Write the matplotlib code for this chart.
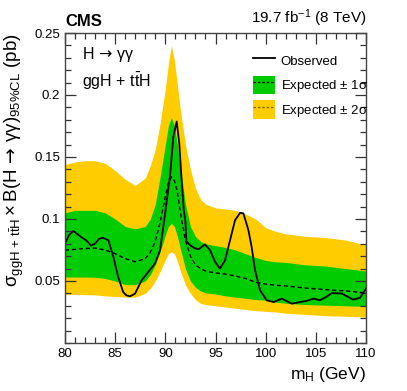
import numpy as np
import matplotlib
matplotlib.use("Agg")
import matplotlib.pyplot as plt
from matplotlib.patches import Patch
from matplotlib.lines import Line2D
from matplotlib.ticker import MultipleLocator, FixedLocator, FuncFormatter

plt.rcParams['font.family'] = ['Liberation Sans', 'DejaVu Sans']
plt.rcParams['mathtext.fontset'] = 'custom'
plt.rcParams['mathtext.rm'] = 'Liberation Sans'
plt.rcParams['mathtext.it'] = 'Liberation Sans:italic'
plt.rcParams['mathtext.bf'] = 'Liberation Sans:bold'
plt.rcParams['mathtext.sf'] = 'DejaVu Sans'
plt.rcParams['mathtext.default'] = 'regular'

# expected limit and bands
mass = [80, 81, 82, 83, 84, 85, 86, 87, 88, 88.5, 89, 89.5, 90, 90.3, 90.6, 90.9,
        91.2, 91.5, 92, 92.5, 93, 93.5, 94, 95, 96, 97, 98, 99, 100, 101, 102,
        104, 106, 108, 110]
exp_median = [0.0748, 0.0755, 0.0762, 0.0765, 0.075, 0.072, 0.068, 0.0655, 0.068,
              0.073, 0.082, 0.098, 0.118, 0.129, 0.134, 0.131, 0.122, 0.105, 0.083,
              0.070, 0.063, 0.060, 0.058, 0.0565, 0.0555, 0.054, 0.052, 0.049,
              0.0475, 0.0465, 0.046, 0.0443, 0.043, 0.042, 0.0403]
exp_1s_up = [0.105, 0.107, 0.107, 0.107, 0.105, 0.100, 0.094, 0.092, 0.094, 0.100,
             0.112, 0.135, 0.160, 0.175, 0.182, 0.175, 0.160, 0.142, 0.112, 0.094,
             0.086, 0.082, 0.080, 0.0785, 0.077, 0.075, 0.072, 0.069, 0.0665,
             0.0655, 0.065, 0.063, 0.062, 0.060, 0.058]
exp_1s_dn = [0.0532, 0.0532, 0.0532, 0.053, 0.052, 0.050, 0.047, 0.047, 0.050,
             0.055, 0.063, 0.074, 0.087, 0.094, 0.0964, 0.094, 0.086, 0.076,
             0.060, 0.050, 0.045, 0.042, 0.0405, 0.0395, 0.038, 0.037, 0.036,
             0.035, 0.0345, 0.033, 0.032, 0.031, 0.0305, 0.030, 0.0295]
exp_2s_up = [0.144, 0.146, 0.147, 0.147, 0.145, 0.139, 0.132, 0.127, 0.133, 0.143,
             0.156, 0.178, 0.205, 0.225, 0.240, 0.228, 0.208, 0.188, 0.160, 0.140,
             0.125, 0.116, 0.112, 0.109, 0.108, 0.107, 0.104, 0.100, 0.093, 0.090,
             0.088, 0.086, 0.085, 0.083, 0.079]
exp_2s_dn = [0.0392, 0.0392, 0.039, 0.0388, 0.038, 0.0375, 0.037, 0.037, 0.040,
             0.044, 0.050, 0.058, 0.067, 0.072, 0.0735, 0.072, 0.066, 0.058, 0.047,
             0.040, 0.035, 0.032, 0.031, 0.030, 0.029, 0.028, 0.027, 0.026, 0.0255,
             0.025, 0.024, 0.023, 0.022, 0.0215, 0.021]

# observed limit
mass_obs = [80.0, 80.4, 80.83, 81.5, 82.16, 82.6, 83.0, 83.4, 83.76, 84.32, 84.82,
            85.3, 85.8, 86.1, 86.48, 86.98, 87.64, 88.3, 88.97, 89.47, 89.97,
            90.47, 90.8, 91.13, 91.39, 91.6, 91.84, 92.0, 92.1, 92.46, 92.9, 93.3,
            93.96, 94.46, 94.96, 95.45, 95.95, 96.45, 96.95, 97.45, 97.78, 98.28,
            98.6, 98.94, 99.44, 100.1, 100.8, 101.6, 102.6, 103.4, 104.1, 104.75,
            105.4, 106.0, 106.6, 107.6, 108.7, 109.4, 110.0]
observed = [0.0802, 0.087, 0.0904, 0.0861, 0.0824, 0.0785, 0.0802, 0.084, 0.0848,
            0.0829, 0.0694, 0.0532, 0.0411, 0.0385, 0.0376, 0.0398, 0.0506, 0.0573,
            0.0641, 0.0748, 0.104, 0.135, 0.1664, 0.1786, 0.161, 0.134, 0.107,
            0.098, 0.082, 0.0789, 0.0765, 0.0755, 0.0795, 0.0748, 0.0654, 0.060,
            0.0667, 0.0829, 0.099, 0.105, 0.1045, 0.091, 0.0775, 0.0587, 0.0425,
            0.0344, 0.033, 0.0358, 0.0317, 0.033, 0.034, 0.0358, 0.0345, 0.037,
            0.0403, 0.0398, 0.035, 0.0364, 0.0438]

yellow = '#ffcc00'
green = '#00cc00'

fig = plt.figure(figsize=(4.07, 3.91), dpi=100)
ax = fig.add_axes([0.1597, 0.1228, 0.7396, 0.7928])

ax.fill_between(mass, exp_2s_dn, exp_2s_up, color=yellow, lw=0)
ax.fill_between(mass, exp_1s_dn, exp_1s_up, color=green, lw=0)
ax.plot(mass, exp_median, color='black', ls=(0, (3, 2)), lw=1.0)
ax.plot(mass_obs, observed, color='black', lw=1.3)

ax.set_xlim(80, 110)
ax.set_ylim(0, 0.25)
ax.xaxis.set_major_locator(MultipleLocator(5))
ax.xaxis.set_minor_locator(MultipleLocator(1))
ax.yaxis.set_major_locator(FixedLocator([0.05, 0.1, 0.15, 0.2, 0.25]))
ax.yaxis.set_minor_locator(MultipleLocator(0.01))
ax.yaxis.set_major_formatter(FuncFormatter(lambda v, p: f'{v:g}'))
ax.tick_params(which='both', direction='in', top=True, right=True,
               labelsize=9.5, color='#333333')
ax.tick_params(which='major', length=8, width=0.9)
ax.tick_params(which='minor', length=4, width=0.9)
for s in ax.spines.values():
    s.set_color('#444444')
    s.set_linewidth(1.0)

ax.set_xlabel(r'm$_{\mathrm{H}}$ (GeV)', fontsize=12.5, loc='right', labelpad=4)
ax.set_ylabel(r'$\sigma_{\mathrm{ggH\,+\,t\bar{t}H}}\times$B(H$\,\mathsf{\rightarrow}\,$γγ)$_{\mathrm{95\%CL}}$ (pb)',
              fontsize=13.5, loc='top', labelpad=6)

ax.text(0, 1.012, 'CMS', transform=ax.transAxes, fontsize=12, fontweight='bold',
        ha='left', va='bottom')
ax.text(1, 1.012, r'19.7 fb$^{-1}$ (8 TeV)', transform=ax.transAxes, fontsize=11,
        ha='right', va='bottom')
ax.text(0.055, 0.93, r'H$\,\mathsf{\rightarrow}\,$γγ', transform=ax.transAxes,
        fontsize=11.5, ha='left', va='center')
ax.text(0.055, 0.845, r'ggH + t$\bar{\mathrm{t}}$H', transform=ax.transAxes,
        fontsize=11.5, ha='left', va='center')

handles = [Line2D([], [], color='black', lw=1.3),
           (Patch(facecolor=green, lw=0), Line2D([], [], color='black', ls=(0, (2, 1.5)), lw=0.9)),
           (Patch(facecolor=yellow, lw=0), Line2D([], [], color='#7a6000', ls=(0, (2, 1.5)), lw=0.9))]
labels = ['Observed', r'Expected $\pm$ 1$\sigma$', r'Expected $\pm$ 2$\sigma$']
ax.legend(handles, labels, loc='upper left', bbox_to_anchor=(0.585, 0.98),
          frameon=False, fontsize=9.5, handlelength=1.7, handleheight=1.8,
          labelspacing=0.45, handletextpad=0.4)

fig.savefig('out.png', dpi=100)
